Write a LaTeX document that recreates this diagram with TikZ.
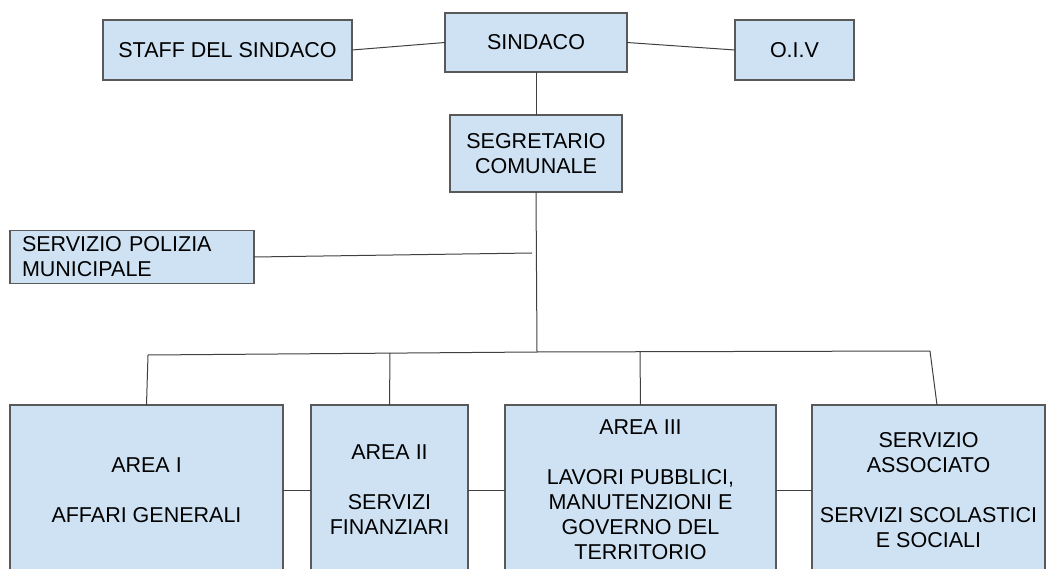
\documentclass[tikz,border=0pt]{standalone}
\usepackage{fontspec}
\setmainfont{Liberation Sans}
\definecolor{boxfill}{HTML}{CFE2F3}
\definecolor{boxline}{HTML}{595959}
\definecolor{conn}{HTML}{404040}
\begin{document}
\begin{tikzpicture}[x=1pt,y=-1pt,
  box/.style={draw=boxline,fill=boxfill,line width=1.3pt,inner sep=0pt,outer sep=0pt,
    align=center,font=\fontsize{21.5}{25}\selectfont,text=black},
  link/.style={draw=conn,line width=1pt}]
\useasboundingbox (0,0) rectangle (1049,569);
\clip (0,0) rectangle (1049,569);
\node[box,minimum width=249pt,minimum height=60pt] (staff) at (227.5,50) {STAFF DEL SINDACO};
\node[box,minimum width=182pt,minimum height=59pt] (sindaco) at (536,42.5) {SINDACO};
\node[box,minimum width=119pt,minimum height=60pt] (oiv) at (794.5,50) {O.I.V};
\node[box,minimum width=172pt,minimum height=77pt] (seg) at (536,153.5) {SEGRETARIO\\COMUNALE};
\node[box,minimum width=244pt,minimum height=53pt,text width=220pt,align=left] (pol) at (132,257) {SERVIZIO POLIZIA\\MUNICIPALE};
\node[box,minimum width=273pt,minimum height=170pt] (a1) at (146.5,490) {AREA I\\\mbox{}\\AFFARI GENERALI};
\node[box,minimum width=157pt,minimum height=170pt] (a2) at (389.5,490) {AREA II\\\mbox{}\\SERVIZI\\FINANZIARI};
\node[box,minimum width=271pt,minimum height=170pt] (a3) at (640.5,490) {AREA III\\\mbox{}\\LAVORI PUBBLICI,\\MANUTENZIONI E\\GOVERNO DEL\\TERRITORIO};
\node[box,minimum width=233pt,minimum height=170pt] (a4) at (928.5,490) {SERVIZIO\\ASSOCIATO\\\mbox{}\\SERVIZI SCOLASTICI\\E SOCIALI};
\coordinate (j) at (537,352);
\coordinate (p) at (532,253);
\coordinate (b1) at (148,355);
\coordinate (b2) at (390,353);
\coordinate (b3) at (640,352);
\coordinate (b4) at (930,351);
\coordinate (t4) at (937,405);
\draw[link] (staff.east) -- (sindaco.west);
\draw[link] (sindaco.east) -- (oiv.west);
\draw[link] (sindaco.south) -- (seg.north);
\draw[link] (seg.south) -- (j);
\draw[link] (pol.east) -- (p);
\draw[link] (b1) -- (j) -- (b4);
\draw[link] (b1) -- (a1.north);
\draw[link] (b2) -- (a2.north);
\draw[link] (b3) -- (a3.north);
\draw[link] (b4) -- (t4);
\draw[link] (a1.east) -- (a2.west);
\draw[link] (a2.east) -- (a3.west);
\draw[link] (a3.east) -- (a4.west);
\end{tikzpicture}
\end{document}
